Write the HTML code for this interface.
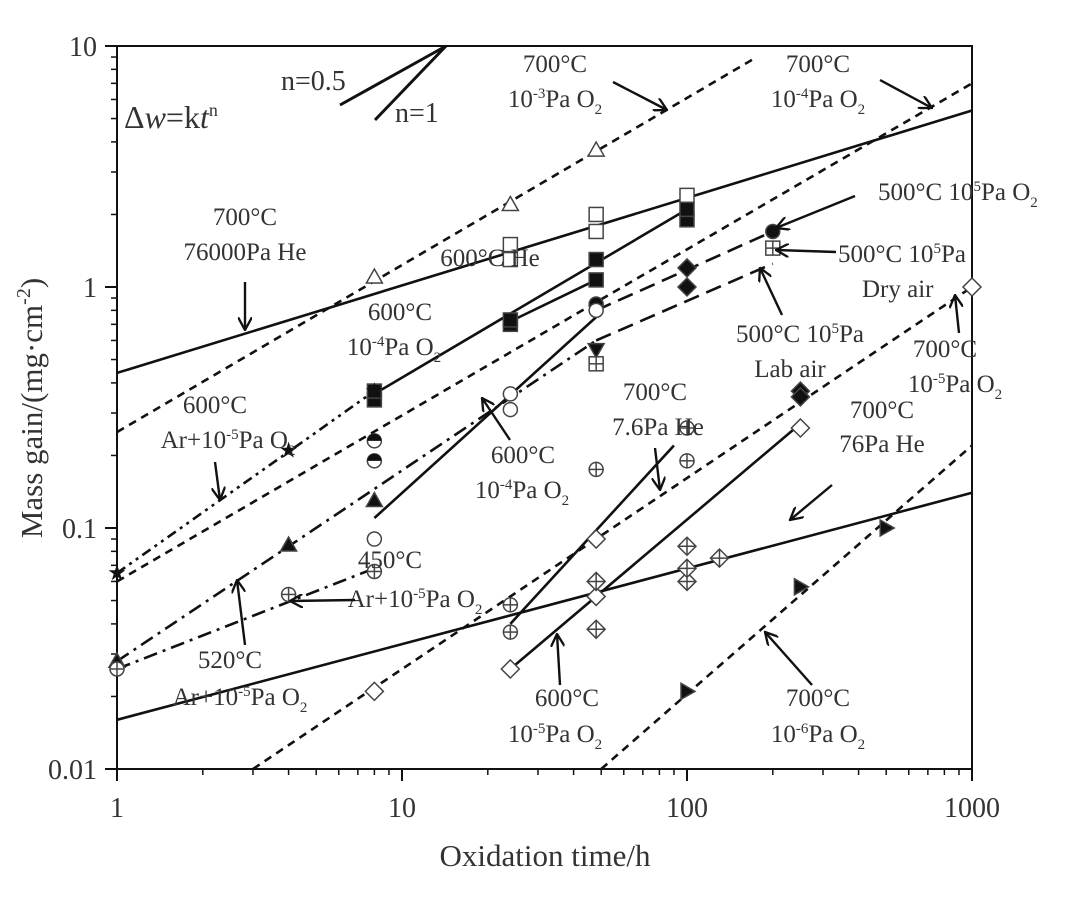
<!DOCTYPE html>
<html><head><meta charset="utf-8"><style>
html,body{margin:0;padding:0;background:#fff}
svg{display:block}
text{font-family:"Liberation Serif",serif;fill:#333}
</style></head><body>
<svg id="chart" width="1065" height="907" viewBox="0 0 1065 907" xmlns="http://www.w3.org/2000/svg">
<defs>
<marker id="arr" viewBox="0 0 12 12" refX="11" refY="6" markerWidth="14" markerHeight="14" markerUnits="userSpaceOnUse" orient="auto"><path d="M0,0 L11,6 L0,12" fill="none" stroke="#111" stroke-width="2"/></marker>
</defs>
<g id="grid"></g>
<g id="marks"></g>
<g id="ann"></g>
</svg>
<script>
const xTicks=[1,10,100,1000];
const xTickLabels=["1","10","100","1000"];
const yTicks=[0.01,0.1,1,10];
const yTickLabels=["0.01","0.1","1","10"];
const lineNames=["he-76000","o2-1e-3","o2-1e-4-700","he-600","he-600-b","o2-1e-4-600","ar-600","ar-520","ar-450","air-dry","air-lab","he-7.6","o2-1e-5-600","o2-1e-5-700","he-76","o2-1e-6"];
const lineStart=[[1,0.44],[1,0.25],[1,0.06],[8,0.36],[24,0.72],[8,0.11],[1,0.065],[1,0.028],[1,0.026],[48,0.8],[48,0.6],[24,0.04],[24,0.026],[3,0.01],[1,0.016],[50,0.01]];
const lineEnd=[[1000,5.4],[173,8.9],[1000,7],[100,2.1],[48,1.07],[48,0.75],[8,0.37],[48,0.6],[8,0.068],[200,1.7],[200,1.25],[90,0.22],[240,0.26],[1000,1.0],[1000,0.14],[1000,0.22]];
const lineStyles=["s","d","d","s","s","s","dd","da","da","lg","lg","s","s","d","s","d"];
const ptTimes=[24,24,48,48,100, 8,24,48, 8,8,48, 8,8,24,24,48,48,100,100, 8,24,24,48, 1,4,8, 1,4,8,48, 1,4,8, 200,200,100,100,48, 24,24,48,100,100, 8,24,48,48,250,1000, 48,48,100,100,100,130,250,250, 100,250,500];
const ptValues=[1.3,1.5,1.7,2.0,2.4, 1.1,2.2,3.7, 0.23,0.19,0.85, 0.34,0.37,0.7,0.73,1.07,1.3,1.9,2.1, 0.09,0.31,0.36,0.8, 0.065,0.21,0.37, 0.028,0.085,0.13,0.55, 0.026,0.053,0.066, 1.7,1.45,1.2,1.0,0.48, 0.037,0.048,0.175,0.19,0.26, 0.021,0.026,0.09,0.052,0.26,1.0, 0.06,0.038,0.084,0.06,0.068,0.075,0.37,0.35, 0.021,0.057,0.1];
const ptShapes=["osq","osq","osq","osq","osq","otri","otri","otri","hcirc","hcirc","fcirc","fsq","fsq","fsq","fsq","fsq","fsq","fsq","fsq","ocirc","ocirc","ocirc","ocirc","star","star","star","ftri","ftri","ftri","dtri","xcirc","xcirc","xcirc","fcirc","xsq","fdia","fdia","xsq","xcirc","xcirc","xcirc","xcirc","xcirc","odia","odia","odia","odia","odia","odia","xdia","xdia","xdia","xdia","xdia","xdia","fdia","fdia","rtri","rtri","rtri"];

const L=117,R=972,T=46,B=769;
const X=t=>L+(Math.log10(t))/3*(R-L);
const Y=w=>B-(Math.log10(w)+2)/3*(B-T);
const NS="http://www.w3.org/2000/svg";
function mk(tag,attrs,parent){const e=document.createElementNS(NS,tag);for(const k in attrs)e.setAttribute(k,attrs[k]);parent.appendChild(e);return e;}
const grid=document.getElementById('grid'),marks=document.getElementById('marks'),ann=document.getElementById('ann');

const frame=mk('rect',{x:L,y:T,width:R-L,height:B-T,fill:'none',stroke:'#111','stroke-width':2},grid);


for(let d=0;d<3;d++){for(let m=2;m<=9;m++){
  const yv=Math.pow(10,d-2)*m;const yy=Y(yv);
  mk('line',{x1:L-6,x2:L,y1:yy,y2:yy,stroke:'#111','stroke-width':1.5},grid);
  const xv=Math.pow(10,d)*m;const xx=X(xv);
  mk('line',{x1:xx,x2:xx,y1:B,y2:B+6,stroke:'#111','stroke-width':1.5},grid);
}}
xTicks.forEach((t,i)=>{const xx=X(t);
  mk('line',{x1:xx,x2:xx,y1:B,y2:B+12,stroke:'#111','stroke-width':2},grid);
  const tx=mk('text',{x:xx,y:B+48,'font-size':28,'text-anchor':'middle'},grid);tx.textContent=xTickLabels[i];
  
  
});
yTicks.forEach((w,i)=>{const yy=Y(w);
  mk('line',{x1:L-12,x2:L,y1:yy,y2:yy,stroke:'#111','stroke-width':2},grid);
  const tx=mk('text',{x:L-20,y:yy+10,'font-size':28,'text-anchor':'end'},grid);tx.textContent=yTickLabels[i];
  
  
});
const xt=mk('text',{x:545,y:866,'font-size':31,'text-anchor':'middle'},grid);xt.textContent='Oxidation time/h';


const yt=mk('text',{x:0,y:0,'font-size':31,'text-anchor':'middle',transform:'translate(42,408) rotate(-90)'},grid);
yt.innerHTML='Mass gain/(mg·cm<tspan dy="-12" font-size="20">-2</tspan><tspan dy="12">)</tspan>';



const dash={s:'',d:'8,6',dd:'10,5,3,5,3,5',da:'14,6,3,6',lg:'16,8'};
lineNames.forEach((n,i)=>{
  const ln=mk('line',{x1:X(lineStart[i][0]),y1:Y(lineStart[i][1]),x2:X(lineEnd[i][0]),y2:Y(lineEnd[i][1]),stroke:'#111','stroke-width':2.6,'stroke-dasharray':dash[lineStyles[i]]},marks);
  
  
});
function shape(s,x,y){
  const g=mk('g',{},marks);const r=7;const st={stroke:'#444','stroke-width':1.5};
  const fill=s[0]==='f'||s==='star'||s==='dtri'||s==='rtri'?'#111':'#fff';
  if(s.endsWith('sq')){mk('rect',{x:x-r,y:y-r,width:2*r,height:2*r,fill:fill,...st},g);if(s==='xsq'){mk('line',{x1:x,x2:x,y1:y-r,y2:y+r,...st},g);mk('line',{x1:x-r,x2:x+r,y1:y,y2:y,...st},g);}}
  else if(s.endsWith('circ')){mk('circle',{cx:x,cy:y,r:r,fill:fill,...st},g);
    if(s==='xcirc'){mk('line',{x1:x,x2:x,y1:y-r,y2:y+r,...st},g);mk('line',{x1:x-r,x2:x+r,y1:y,y2:y,...st},g);}
    if(s==='hcirc'){mk('path',{d:`M${x-r},${y} A${r},${r} 0 0 1 ${x+r},${y} Z`,fill:'#111'},g);}}
  else if(s.endsWith('dia')){const r2=9;mk('polygon',{points:`${x},${y-r2} ${x+r2},${y} ${x},${y+r2} ${x-r2},${y}`,fill:fill,...st},g);
    if(s==='xdia'){mk('line',{x1:x,x2:x,y1:y-r2,y2:y+r2,...st},g);mk('line',{x1:x-r2,x2:x+r2,y1:y,y2:y,...st},g);}}
  else if(s==='otri'||s==='ftri'){mk('polygon',{points:`${x},${y-r-1} ${x+r+1},${y+r-1} ${x-r-1},${y+r-1}`,fill:fill,...st},g);}
  else if(s==='dtri'){mk('polygon',{points:`${x},${y+r+1} ${x+r+1},${y-r+1} ${x-r-1},${y-r+1}`,fill:fill,...st},g);}
  else if(s==='rtri'){mk('polygon',{points:`${x+r+1},${y} ${x-r+1},${y-r-1} ${x-r+1},${y+r+1}`,fill:fill,...st},g);}
  else if(s==='star'){mk('text',{x:x,y:y+7,'font-size':22,'text-anchor':'middle',style:'fill:#111'},g).textContent='★';}
  return g;
}
ptTimes.forEach((t,i)=>{
  const g=shape(ptShapes[i],X(t),Y(ptValues[i]));
  
  
});

function txt(x,y,html,anchor,size){const t=mk('text',{x:x,y:y,'font-size':size||25,'text-anchor':anchor||'middle'},ann);t.innerHTML=html;
  
  
  return t;}
function arrow(x1,y1,x2,y2){const a=mk('line',{x1,y1,x2,y2,stroke:'#111','stroke-width':2.4,'marker-end':'url(#arr)'},ann);
  
  }
const sup=s=>`<tspan dy="-9" font-size="15">${s}</tspan><tspan dy="9">`;
const O2='O<tspan dy="7" font-size="15">2</tspan>';
mk('line',{x1:340,y1:105,x2:446,y2:46,stroke:'#111','stroke-width':3},ann);
mk('line',{x1:375,y1:120,x2:446,y2:46,stroke:'#111','stroke-width':3},ann);
txt(281,90,'n=0.5','start',28);
txt(395,122,'n=1','start',28);
txt(124,128,'Δ<tspan font-style="italic">w</tspan>=k<tspan font-style="italic">t</tspan><tspan dy="-12" font-size="18">n</tspan>','start',32);
txt(245,225,'700°C');txt(245,260,'76000Pa He');arrow(245,282,245,330);
txt(490,266,'600°C He');
txt(400,320,'600°C');txt(394,355,'10'+sup('-4')+'Pa '+O2+'</tspan>');
txt(555,72,'700°C');txt(555,107,'10'+sup('-3')+'Pa '+O2+'</tspan>');arrow(613,82,667,110);
txt(818,72,'700°C');txt(818,107,'10'+sup('-4')+'Pa '+O2+'</tspan>');arrow(880,80,932,108);
txt(878,200,'500°C 10'+sup('5')+'Pa '+O2+'</tspan>','start');arrow(855,196,776,228);
txt(838,262,'500°C 10'+sup('5')+'Pa</tspan>','start');arrow(836,252,776,250);
txt(862,297,'Dry air','start');
txt(800,342,'500°C 10'+sup('5')+'Pa</tspan>');txt(790,377,'Lab air');arrow(782,315,760,268);
txt(945,357,'700°C');txt(955,392,'10'+sup('-5')+'Pa '+O2+'</tspan>');arrow(959,333,955,295);
txt(215,413,'600°C');txt(228,448,'Ar+10'+sup('-5')+'Pa '+O2+'</tspan>');arrow(215,462,220,500);
txt(523,463,'600°C');txt(522,498,'10'+sup('-4')+'Pa '+O2+'</tspan>');arrow(510,440,482,398);
txt(655,400,'700°C');txt(658,435,'7.6Pa He');arrow(655,448,660,490);
txt(882,418,'700°C');txt(882,452,'76Pa He');arrow(832,485,790,520);
txt(390,568,'450°C');txt(415,607,'Ar+10'+sup('-5')+'Pa '+O2+'</tspan>');arrow(355,600,290,601);
txt(230,668,'520°C');txt(240,705,'Ar+10'+sup('-5')+'Pa '+O2+'</tspan>');arrow(245,645,237,580);
txt(567,706,'600°C');txt(555,742,'10'+sup('-5')+'Pa '+O2+'</tspan>');arrow(560,685,557,634);
txt(818,706,'700°C');txt(818,742,'10'+sup('-6')+'Pa '+O2+'</tspan>');arrow(812,685,765,632);
</script>
</body></html>
